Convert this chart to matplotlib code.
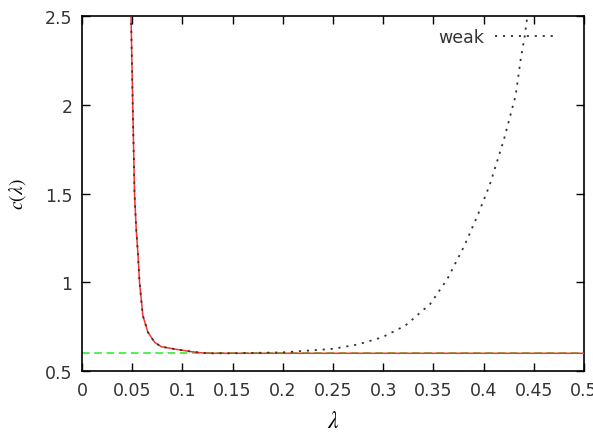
import matplotlib
matplotlib.use("Agg")
import matplotlib.pyplot as plt

# Data
lam_strong = [0.0485, 0.0506, 0.0523, 0.054, 0.0556, 0.0573, 0.0606, 0.0656, 0.0723, 0.079, 0.092, 0.109,
              0.12, 0.13, 0.2, 0.3, 0.4, 0.5]
c_strong = [2.6, 1.98, 1.5, 1.3, 1.17, 1.0, 0.812, 0.719, 0.662, 0.637, 0.624, 0.609,
            0.602, 0.6, 0.6, 0.6, 0.6, 0.6]

lam_weak = [0.0485, 0.0506, 0.0523, 0.054, 0.0556, 0.0573, 0.0606, 0.0656, 0.0723, 0.079, 0.092, 0.109,
            0.12, 0.13, 0.15, 0.2, 0.25, 0.275, 0.299, 0.322, 0.347, 0.364, 0.381, 0.394, 0.406,
            0.42, 0.432, 0.437, 0.441, 0.446]
c_weak = [2.6, 1.98, 1.5, 1.3, 1.17, 1.0, 0.812, 0.719, 0.662, 0.637, 0.624, 0.609,
          0.602, 0.6, 0.6, 0.605, 0.625, 0.65, 0.69, 0.756, 0.879, 1.02, 1.208, 1.377, 1.547,
          1.8, 2.055, 2.26, 2.39, 2.6]

c_limit = 0.6
x_range = [0.0, 0.5]

xticks = [0, 0.05, 0.1, 0.15, 0.2, 0.25, 0.3, 0.35, 0.4, 0.45, 0.5]
xtick_labels = ["0", "0.05", "0.1", "0.15", "0.2", "0.25", "0.3", "0.35", "0.4", "0.45", "0.5"]
yticks = [0.5, 1, 1.5, 2, 2.5]
ytick_labels = ["0.5", "1", "1.5", "2", "2.5"]

plt.rcParams['font.family'] = ['DejaVu Sans']
plt.rcParams['mathtext.fontset'] = 'stix'

fig = plt.figure(figsize=(5.93, 4.39), dpi=100)
ax = fig.add_axes([0.1383, 0.1526, 0.9848 - 0.1383, 0.9606 - 0.1526])

ax.plot(x_range, [c_limit, c_limit], color='#22ee22', lw=1.1, ls=(0, (5, 3)), zorder=2)
ax.plot(lam_strong, c_strong, color='#ff3030', lw=1.1, zorder=3)
ax.plot(lam_weak, c_weak, color='#333333', lw=1.3, ls=(0, (1.2, 3.2)), zorder=4, label='weak')

ax.set_xlim(0, 0.5)
ax.set_ylim(0.5, 2.5)
ax.set_xticks(xticks)
ax.set_xticklabels(xtick_labels)
ax.set_yticks(yticks)
ax.set_yticklabels(ytick_labels)
ax.tick_params(direction='in', length=6, width=1, top=True, right=True, labelsize=12.5, pad=7)
for lbl in ax.get_xticklabels() + ax.get_yticklabels():
    lbl.set_color('#333333')
for s in ax.spines.values():
    s.set_linewidth(1.2)

ax.set_xlabel(r'$\lambda$', fontsize=17, labelpad=7)
ax.set_ylabel(r'$c(\lambda)$', fontsize=14, labelpad=12)

leg = ax.legend(loc='upper right', frameon=False, markerfirst=False, fontsize=12.5,
                handlelength=3.5, handletextpad=0.6, borderaxespad=0.3, bbox_to_anchor=(0.967, 1.0))
for t in leg.get_texts():
    t.set_color('#333333')

fig.savefig('out.png', dpi=100)
